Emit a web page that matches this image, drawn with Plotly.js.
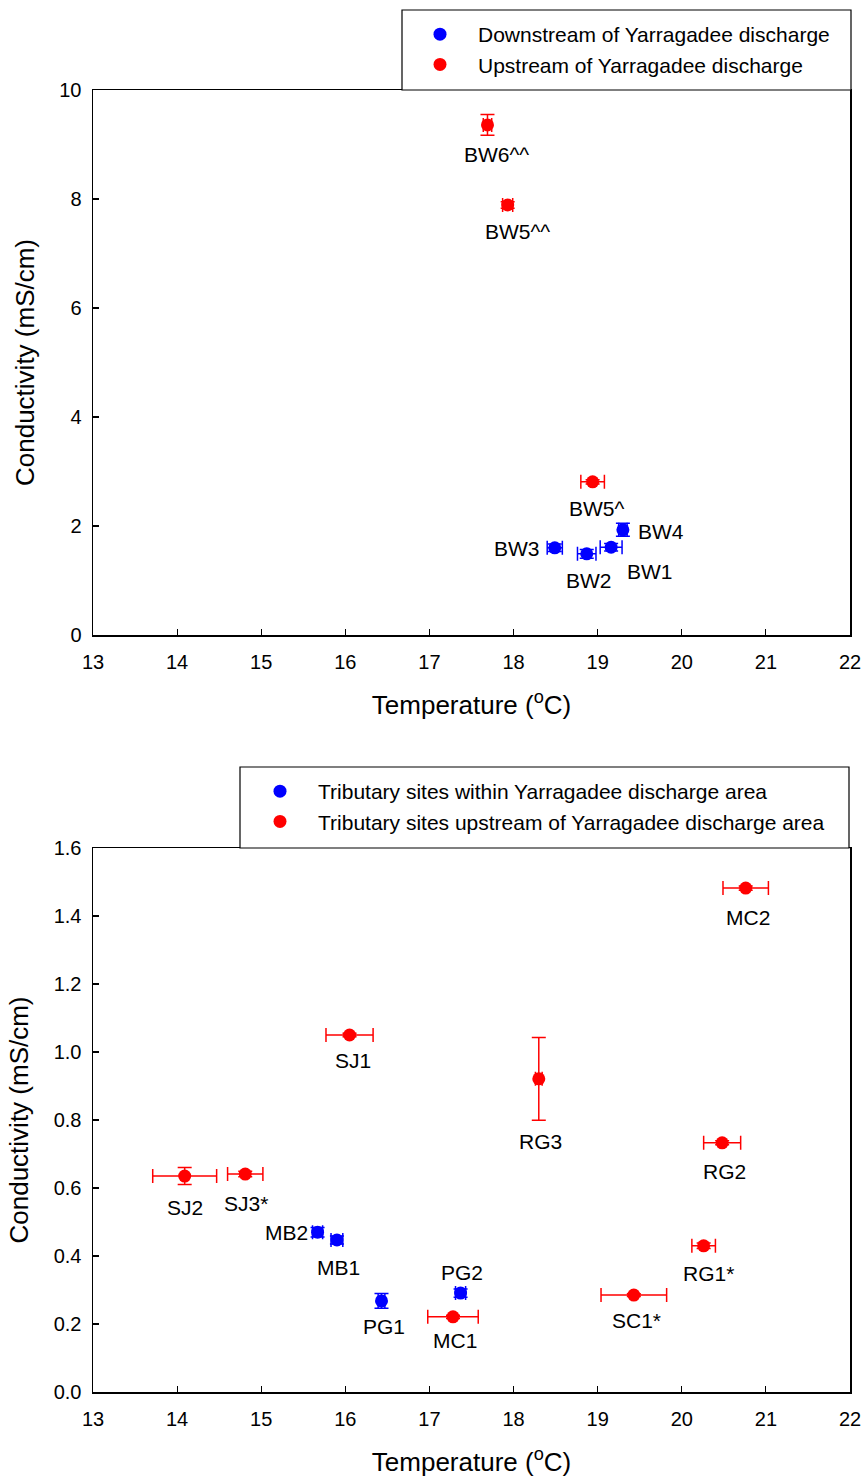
<!DOCTYPE html>
<html>
<head>
<meta charset="utf-8">
<script src="https://cdn.plot.ly/plotly-3.0.1.min.js"></script>
<style>html,body{margin:0;padding:0;background:#fff;}#chart{width:865px;height:1479px;}</style>
</head>
<body>
<div id="chart"></div>
<script>
// ---- Top panel: main channel sites ----
var downNames = ['BW1', 'BW2', 'BW3', 'BW4'];
var downTemp = [19.16, 18.87, 18.49, 19.30];
var downCond = [1.61, 1.49, 1.60, 1.93];
var downTempErr = [0.13, 0.11, 0.09, 0.05];
var downCondErr = [0.07, 0.08, 0.07, 0.12];

var upNames = ['BW5^', 'BW5^^', 'BW6^^'];
var upTemp = [18.94, 17.93, 17.69];
var upCond = [2.81, 7.89, 9.36];
var upTempErr = [0.14, 0.06, 0.05];
var upCondErr = [0.04, 0.06, 0.19];

// ---- Bottom panel: tributary sites ----
var tribInNames = ['MB1', 'MB2', 'PG1', 'PG2'];
var tribInTemp = [15.90, 15.67, 16.43, 17.37];
var tribInCond = [0.447, 0.470, 0.268, 0.291];
var tribInTempErr = [0.07, 0.06, 0.04, 0.06];
var tribInCondErr = [0.012, 0.014, 0.022, 0.012];

var tribUpNames = ['SJ1', 'SJ2', 'SJ3*', 'MC1', 'MC2', 'RG1*', 'RG2', 'RG3', 'SC1*'];
var tribUpTemp = [16.05, 14.09, 14.81, 17.28, 20.76, 20.26, 20.48, 18.30, 19.43];
var tribUpCond = [1.05, 0.635, 0.641, 0.221, 1.482, 0.430, 0.733, 0.921, 0.285];
var tribUpTempErr = [0.28, 0.38, 0.21, 0.30, 0.27, 0.14, 0.22, 0.04, 0.39];
var tribUpCondErr = [0.005, 0.025, 0.008, 0.005, 0.006, 0.008, 0.006, 0.122, 0.004];

var legendTop = ['Downstream of Yarragadee discharge', 'Upstream of Yarragadee discharge'];
var legendBottom = ['Tributary sites within Yarragadee discharge area', 'Tributary sites upstream of Yarragadee discharge area'];

var xTicks = [13, 14, 15, 16, 17, 18, 19, 20, 21, 22];

// label offsets (pixels, dx right, dy down)
var labelOffset = {
  'BW1': [39, 24], 'BW2': [2, 27], 'BW3': [-38, 1], 'BW4': [38, 2],
  'BW5^': [4, 27], 'BW5^^': [10, 27], 'BW6^^': [9, 30],
  'MB1': [2, 27], 'MB2': [-31, 0], 'PG1': [2, 26], 'PG2': [1, -21],
  'SJ1': [3, 25], 'SJ2': [0, 31], 'SJ3*': [1, 29], 'MC1': [2, 24], 'MC2': [2, 29],
  'RG1*': [5, 28], 'RG2': [2, 29], 'RG3': [2, 63], 'SC1*': [3, 25]
};

var FONT = 'Liberation Sans, Arial, sans-serif';
var BLUE = '#0000ff', RED = '#ff0000';

function mk(x, y, ex, ey, color, name, xa, ya, leg, grp) {
  return {
    type: 'scatter', mode: 'markers', x: x, y: y, name: name,
    xaxis: xa, yaxis: ya, legend: leg, legendgroup: grp,
    marker: {color: color, size: 13},
    error_x: {type: 'data', array: ex, visible: true, color: color, thickness: 1.5, width: 7},
    error_y: {type: 'data', array: ey, visible: true, color: color, thickness: 1.5, width: 7},
    cliponaxis: false
  };
}

var traces = [
  mk(downTemp, downCond, downTempErr, downCondErr, BLUE, legendTop[0], 'x', 'y', 'legend', 'a'),
  mk(upTemp, upCond, upTempErr, upCondErr, RED, legendTop[1], 'x', 'y', 'legend', 'b'),
  mk(tribInTemp, tribInCond, tribInTempErr, tribInCondErr, BLUE, legendBottom[0], 'x2', 'y2', 'legend2', 'c'),
  mk(tribUpTemp, tribUpCond, tribUpTempErr, tribUpCondErr, RED, legendBottom[1], 'x2', 'y2', 'legend2', 'd')
];

var annotations = [];
function addLabels(names, xs, ys, xref, yref) {
  names.forEach(function (n, i) {
    var o = labelOffset[n] || [0, 25];
    annotations.push({
      x: xs[i], y: ys[i], xref: xref, yref: yref, text: n, showarrow: false,
      xanchor: 'center', yanchor: 'middle', xshift: o[0], yshift: -o[1],
      font: {family: FONT, size: 21, color: '#000'}
    });
  });
}
addLabels(downNames, downTemp, downCond, 'x', 'y');
addLabels(upNames, upTemp, upCond, 'x', 'y');
addLabels(tribInNames, tribInTemp, tribInCond, 'x2', 'y2');
addLabels(tribUpNames, tribUpTemp, tribUpCond, 'x2', 'y2');

var W = 865, H = 1479;
var xDom = [93 / W, 850 / W];

function xAxis(anchor) {
  return {
    domain: xDom, anchor: anchor, range: [13, 22], tickmode: 'array', tickvals: xTicks,
    showline: true, linecolor: '#000', linewidth: 1.5, mirror: true,
    ticks: 'inside', ticklen: 6, tickwidth: 1.2, tickcolor: '#000',
    ticklabelstandoff: 8,
    showgrid: false, zeroline: false,
    tickfont: {family: FONT, size: 20, color: '#000'},
    title: {text: 'Temperature (<sup>o</sup>C)', font: {family: FONT, size: 26, color: '#000'}, standoff: 24}
  };
}
function yAxis(anchor, dom, range, dtick, fmt) {
  return {
    domain: dom, anchor: anchor, range: range, dtick: dtick, tick0: 0, tickformat: fmt,
    showline: true, linecolor: '#000', linewidth: 1.5, mirror: true,
    ticks: 'inside', ticklen: 6, tickwidth: 1.2, tickcolor: '#000',
    ticklabelstandoff: 6,
    showgrid: false, zeroline: false,
    tickfont: {family: FONT, size: 20, color: '#000'},
    title: {text: 'Conductivity (mS/cm)', font: {family: FONT, size: 26, color: '#000'}, standoff: 17}
  };
}

var layout = {
  width: W, height: H,
  margin: {l: 0, r: 0, t: 0, b: 0},
  paper_bgcolor: '#fff', plot_bgcolor: '#fff',
  font: {family: FONT, color: '#000'},
  showlegend: true,
  xaxis: xAxis('y'),
  yaxis: yAxis('x', [1 - 635 / H, 1 - 90 / H], [0, 10], 2, 'd'),
  xaxis2: xAxis('y2'),
  yaxis2: yAxis('x2', [1 - 1392 / H, 1 - 848 / H], [0, 1.6], 0.2, '.1f'),
  legend: {
    x: 402 / W, y: 1 - 14 / H, xanchor: 'left', yanchor: 'top',
    bgcolor: 'rgba(0,0,0,0)', borderwidth: 0, tracegroupgap: 0, itemwidth: 66,
    font: {family: FONT, size: 21, color: '#000'}
  },
  legend2: {
    x: 242 / W, y: 1 - 771 / H, xanchor: 'left', yanchor: 'top',
    bgcolor: 'rgba(0,0,0,0)', borderwidth: 0, tracegroupgap: 0, itemwidth: 66,
    font: {family: FONT, size: 21, color: '#000'}
  },
  shapes: [
    {type: 'rect', xref: 'paper', yref: 'paper', x0: 402 / W, x1: 851 / W, y0: 1 - 90 / H, y1: 1 - 10 / H,
     line: {color: '#000', width: 1.2}, fillcolor: '#fff', layer: 'above'},
    {type: 'rect', xref: 'paper', yref: 'paper', x0: 240 / W, x1: 849 / W, y0: 1 - 848 / H, y1: 1 - 767 / H,
     line: {color: '#000', width: 1.2}, fillcolor: '#fff', layer: 'above'}
  ],
  annotations: annotations
};

Plotly.newPlot('chart', traces, layout, {displayModeBar: false, staticPlot: true});
</script>
</body>
</html>
